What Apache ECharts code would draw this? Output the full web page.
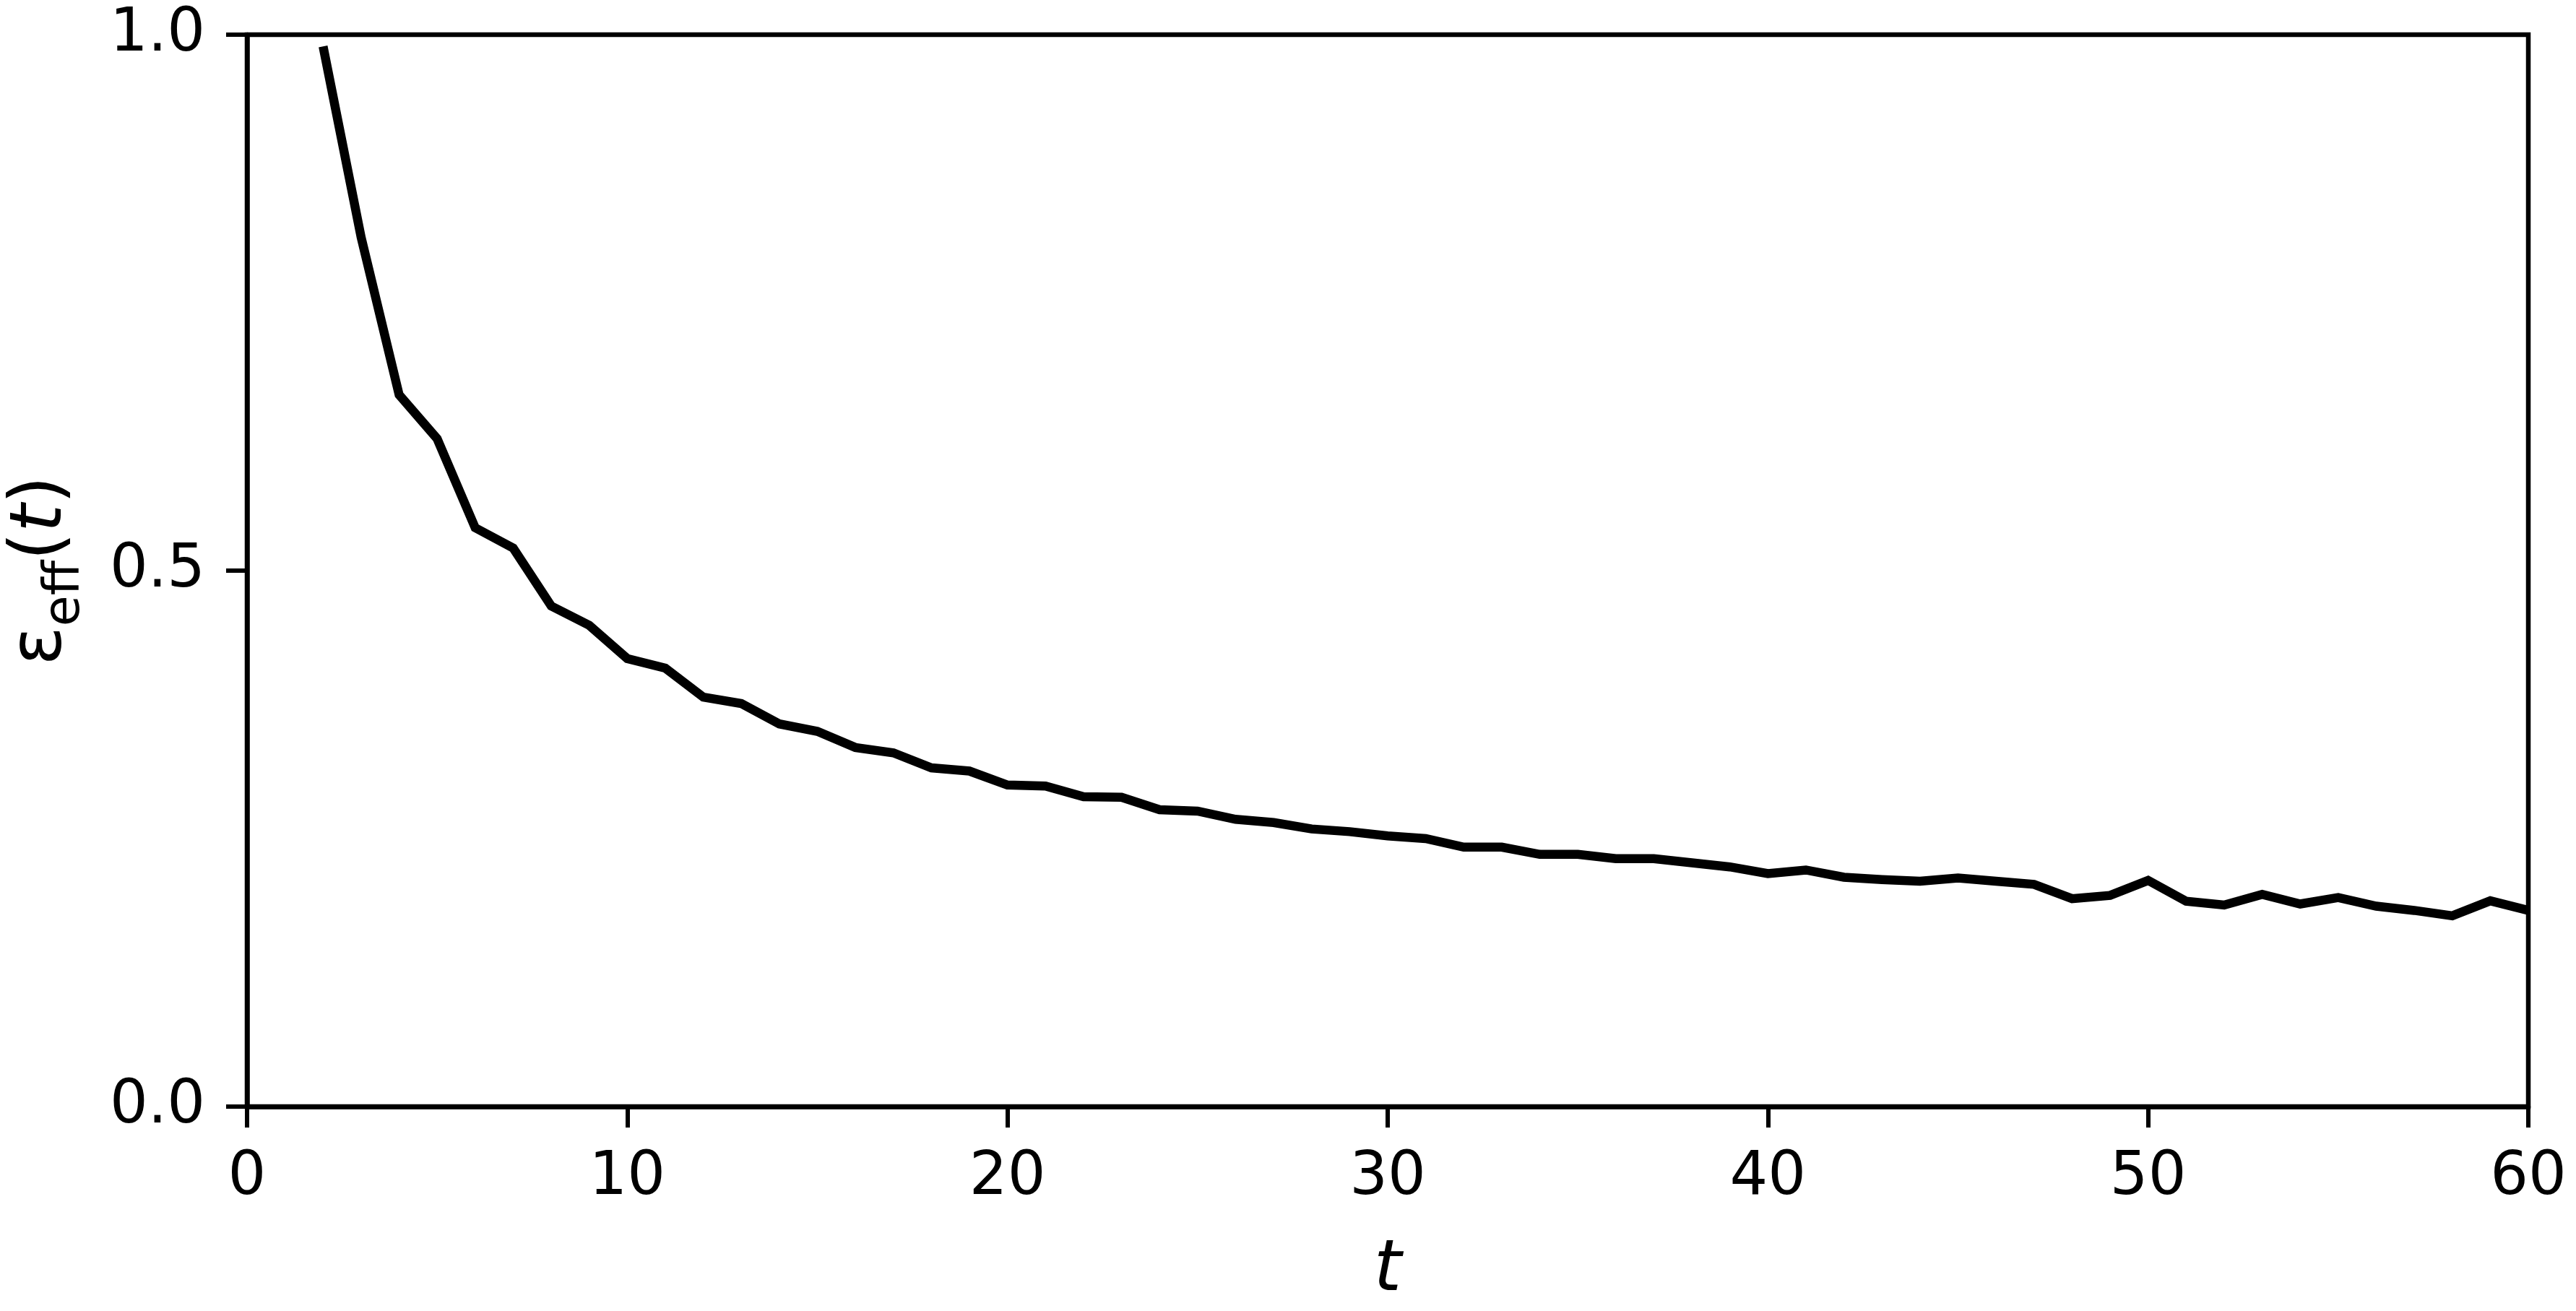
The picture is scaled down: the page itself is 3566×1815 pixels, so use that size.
<!DOCTYPE html>
<html>
<head>
<meta charset="utf-8">
<script src="https://cdn.jsdelivr.net/npm/echarts@6/dist/echarts.min.js"></script>
<style>
  html, body { margin: 0; padding: 0; background: #fff; }
  #chart { width: 3566px; height: 1815px; }
</style>
</head>
<body>
<div id="chart"></div>
<script>
// t values (time steps)
const tValues = [2, 3, 4, 5, 6, 7, 8, 9, 10, 11, 12, 13, 14, 15, 16, 17, 18, 19, 20,
  21, 22, 23, 24, 25, 26, 27, 28, 29, 30, 31, 32, 33, 34, 35, 36, 37, 38, 39, 40,
  41, 42, 43, 44, 45, 46, 47, 48, 49, 50, 51, 52, 53, 54, 55, 56, 57, 58, 59, 60];
// epsilon_eff(t) values
const epsEff = [0.989, 0.811, 0.664, 0.623, 0.540, 0.521, 0.467, 0.449, 0.418, 0.409,
  0.382, 0.376, 0.357, 0.350, 0.335, 0.330, 0.316, 0.313, 0.300,
  0.299, 0.289, 0.2886, 0.277, 0.2756, 0.268, 0.265, 0.259, 0.2565, 0.2525,
  0.250, 0.242, 0.242, 0.2353, 0.2353, 0.2313, 0.2313, 0.2274, 0.2236, 0.2174,
  0.2207, 0.214, 0.2118, 0.2102, 0.2133, 0.2102, 0.2073, 0.194, 0.197, 0.211,
  0.1916, 0.188, 0.198, 0.189, 0.195, 0.187, 0.183, 0.178, 0.192, 0.183];
// tick labels
const xTicks = [0, 10, 20, 30, 40, 50, 60];
const yTickLabels = ['0.0', '0.5', '1.0'];

const FONT = 'DejaVu Sans';
const chart = echarts.init(document.getElementById('chart'), null, { renderer: 'canvas' });
const seriesData = tValues.map((t, i) => [t, epsEff[i]]);

chart.setOption({
  animation: false,
  backgroundColor: '#ffffff',
  grid: {
    left: 340, right: 66, top: 48, bottom: 277,
    show: true, borderColor: '#000', borderWidth: 6.5, backgroundColor: 'transparent'
  },
  xAxis: {
    type: 'value',
    min: xTicks[0], max: xTicks[xTicks.length - 1], interval: 10,
    name: 't',
    nameLocation: 'middle',
    nameGap: 180,
    nameTextStyle: { fontFamily: FONT, fontSize: 98, fontStyle: 'italic', color: '#000' },
    axisLine: { show: true, onZero: false, lineStyle: { color: '#000', width: 6.5 } },
    axisTick: { show: true, inside: false, length: 29, lineStyle: { color: '#000', width: 6 } },
    axisLabel: { margin: 58, fontFamily: FONT, fontSize: 83, color: '#000',
      formatter: v => String(v) },
    splitLine: { show: false }
  },
  yAxis: {
    type: 'value',
    min: 0, max: 1, interval: 0.5,
    name: '{e|ε}{s|eff}{p|(}{i|t}{p|)}',
    nameLocation: 'middle',
    nameRotate: 90,
    nameGap: 214,
    nameTextStyle: {
      fontFamily: FONT, fontSize: 100, color: '#000',
      rich: {
        e: { fontFamily: FONT, fontSize: 100, lineHeight: 120, verticalAlign: 'top', color: '#000' },
        s: { fontFamily: FONT, fontSize: 70, lineHeight: 70, verticalAlign: 'top', padding: [48, 0, 0, 0], color: '#000' },
        p: { fontFamily: FONT, fontSize: 100, lineHeight: 120, verticalAlign: 'top', color: '#000' },
        i: { fontFamily: FONT, fontSize: 100, lineHeight: 120, verticalAlign: 'top', fontStyle: 'italic', color: '#000' }
      }
    },
    axisLine: { show: true, onZero: false, lineStyle: { color: '#000', width: 6.5 } },
    axisTick: { show: true, inside: false, length: 29, lineStyle: { color: '#000', width: 6 } },
    axisLabel: { margin: 58, fontFamily: FONT, fontSize: 83, color: '#000',
      formatter: v => yTickLabels[Math.round(v / 0.5)] },
    splitLine: { show: false }
  },
  series: [{
    type: 'line',
    data: seriesData,
    showSymbol: false,
    symbol: 'none',
    lineStyle: { color: '#000', width: 12.5, join: 'miter' },
    clip: true
  }]
});
</script>
</body>
</html>
